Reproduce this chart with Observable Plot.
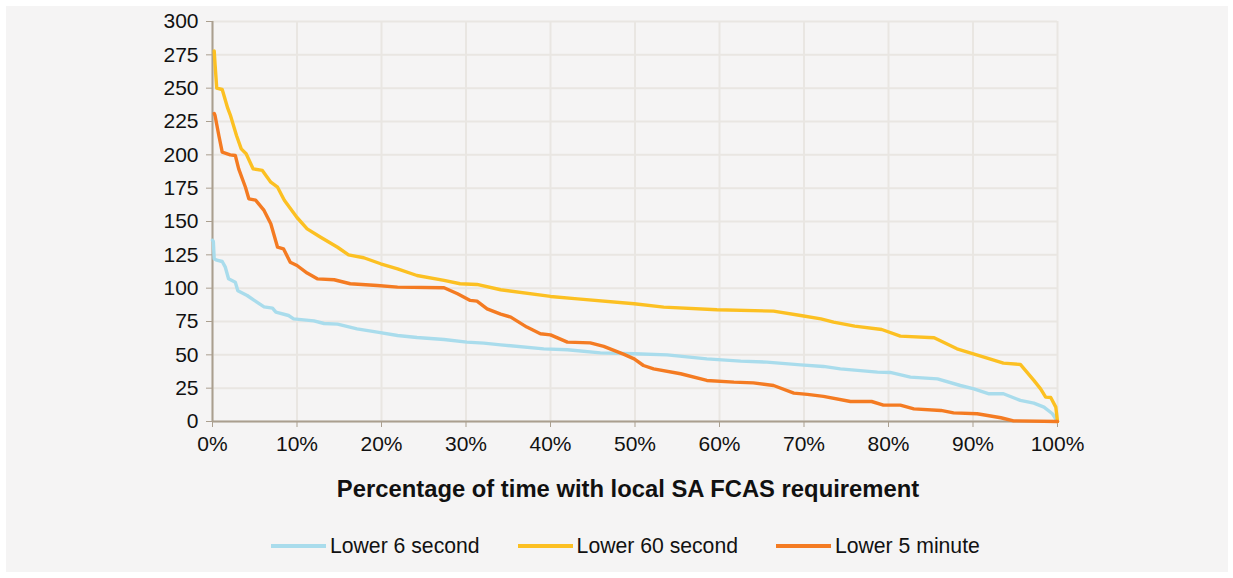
<!DOCTYPE html>
<html>
<head>
<meta charset="utf-8">
<script src="https://cdn.jsdelivr.net/npm/d3@7"></script>
<script src="https://cdn.jsdelivr.net/npm/@observablehq/plot@0.6"></script>
<style>
  html, body { margin: 0; padding: 0; background: #ffffff; }
  #panel { position: absolute; left: 6px; top: 6px; width: 1222px; height: 566px; background: #f5f4f4; overflow: hidden;
           font-family: "Liberation Sans", Arial, sans-serif; color: #111; }
  #chart { position: absolute; left: 0; top: 0; }
  #title { position: absolute; left: 622px; top: 470px; transform: translateX(-50%); white-space: nowrap;
           font-weight: bold; font-size: 23.8px; line-height: 26px; }
  #legend { position: absolute; left: 265px; top: 527px; display: flex; align-items: center; white-space: nowrap;
            font-size: 21.2px; line-height: 26px; }
  .item { display: flex; align-items: center; margin-right: 38px; }
  .sw { width: 55px; height: 3.5px; margin-right: 4px; }
</style>
</head>
<body>
<div id="panel">
  <div id="chart"></div>
  <div id="title"></div>
  <div id="legend"></div>
</div>
<script>
// ---- Data ----
const seriesNames = ["Lower 6 second", "Lower 60 second", "Lower 5 minute"];
const seriesColors = ["#a9dcec", "#fcc022", "#f47b22"];

const pctL6 = [0, 0.1, 0.2, 0.5, 1.15, 1.5, 1.9, 2.7, 3.0, 4.1, 4.9, 6.1, 7.1, 7.5, 9.0, 9.6, 12.0, 13.2, 14.8, 17.1, 19.5, 21.9, 24.2, 27.4, 30.1, 32.1, 34.1, 39.2, 42.0, 45.9, 49.9, 53.8, 58.5, 62.5, 65.6, 69.6, 72.3, 74.3, 78.7, 80.2, 82.6, 85.8, 88.5, 90.1, 91.9, 93.6, 95.6, 97.2, 98.4, 99.4, 100];
const valL6 = [136, 135, 122, 121, 120, 116, 107, 104.5, 98, 94.5, 91, 86, 85, 82, 79.5, 77, 75.5, 73.5, 73, 69.5, 67, 64.5, 63, 61.5, 59.5, 58.8, 57.5, 54.5, 53.8, 51.5, 50.8, 50, 47, 45.3, 44.5, 42.5, 41.3, 39.5, 37, 36.8, 33.3, 32, 27, 24.5, 20.8, 20.8, 15.8, 13.8, 10.8, 5.8, 0];

const pctL60 = [0.2, 0.3, 0.5, 1.15, 1.8, 2.1, 2.84, 3.4, 3.98, 4.8, 5.9, 6.9, 7.7, 8.5, 10.0, 11.2, 12.8, 14.8, 16.1, 17.9, 19.9, 21.9, 24.2, 27.4, 29.3, 31.3, 34.1, 40.0, 43.2, 49.9, 53.4, 59.7, 66.4, 69.6, 72.0, 73.5, 76.0, 79.2, 81.4, 85.4, 88.1, 91.3, 93.6, 95.6, 97.2, 98.0, 98.6, 99.2, 99.8, 100];
const valL60 = [278, 268, 250, 249, 235, 230, 214.5, 204.5, 200.8, 189.5, 188.3, 179.5, 175.7, 166, 153, 144.5, 138.2, 130.7, 125, 122.8, 118.3, 114.5, 109.5, 105.8, 103.3, 102.8, 98.8, 93.8, 92, 88.3, 85.8, 83.8, 82.8, 79.5, 77, 74.5, 71.5, 69, 64, 62.8, 54.5, 48.3, 43.8, 42.8, 30.8, 24.5, 18.3, 18, 10.8, 0];

const pctL5 = [0.2, 0.3, 0.75, 1.15, 2.1, 2.7, 3.1, 3.9, 4.3, 5.1, 6.1, 6.9, 7.7, 8.4, 9.2, 10.0, 11.2, 12.4, 14.4, 16.3, 19.5, 21.9, 27.4, 29.0, 30.5, 31.3, 32.5, 34.1, 35.3, 37.2, 38.8, 40.0, 42.0, 44.7, 46.3, 48.7, 49.9, 51.0, 52.2, 55.4, 58.5, 61.7, 64.0, 66.4, 68.8, 70.4, 72.3, 75.5, 78.0, 79.4, 81.4, 83.0, 86.2, 87.7, 90.5, 93.3, 94.8, 100];
const valL5 = [231, 229.5, 214.5, 202, 200, 199.5, 189.5, 175.7, 167, 166, 158.3, 148.3, 130.7, 129.5, 119.5, 117, 111.3, 107, 106.3, 103.3, 102, 100.8, 100.3, 95.8, 90.8, 90.3, 84.5, 80.5, 78.3, 70.8, 65.8, 65, 59.5, 59, 56.3, 50.3, 47, 42, 39.5, 35.8, 30.8, 29.5, 29, 27, 21.3, 20.3, 18.8, 15, 15, 12.3, 12.3, 9.5, 8.3, 6.5, 5.8, 2.8, 0.5, 0];

const xTicks = [0, 10, 20, 30, 40, 50, 60, 70, 80, 90, 100];
const yTicks = [0, 25, 50, 75, 100, 125, 150, 175, 200, 225, 250, 275, 300];
const xTitle = "Percentage of time with local SA FCAS requirement";

// ---- Build rows ----
const toRows = (name, xs, ys) => xs.map((x, i) => ({series: name, pct: x, value: ys[i]}));
const rows = [
  ...toRows(seriesNames[0], pctL6, valL6),
  ...toRows(seriesNames[1], pctL60, valL60),
  ...toRows(seriesNames[2], pctL5, valL5)
];

const axisColor = "#aa9f8f";
const gridColor = "#e9e6e2";

const chart = Plot.plot({
  width: 1222,
  height: 450,
  marginLeft: 206,
  marginRight: 171,
  marginTop: 15,
  marginBottom: 35,
  style: {fontFamily: "Liberation Sans, Arial, sans-serif", fontSize: "21px", background: "transparent", color: "#111"},
  x: {domain: [0, 100]},
  y: {domain: [0, 300]},
  color: {domain: seriesNames, range: seriesColors},
  marks: [
    Plot.gridX(xTicks, {stroke: gridColor, strokeOpacity: 1, strokeWidth: 2}),
    Plot.gridY(yTicks, {stroke: gridColor, strokeOpacity: 1, strokeWidth: 2}),
    Plot.ruleX([0], {stroke: axisColor, strokeWidth: 2}),
    Plot.ruleY([0], {stroke: axisColor, strokeWidth: 2}),
    Plot.axisX(xTicks, {tickSize: 6, tickPadding: 9, stroke: axisColor, fill: "#111", tickFormat: d => d + "%", label: null}),
    Plot.axisY(yTicks, {tickSize: 6, tickPadding: 8, stroke: axisColor, fill: "#111", label: null}),
    Plot.line(rows, {x: "pct", y: "value", z: "series", stroke: "series", strokeWidth: 3.4, strokeLinejoin: "round"})
  ]
});
document.getElementById("chart").appendChild(chart);

document.getElementById("title").textContent = xTitle;
const legend = document.getElementById("legend");
seriesNames.forEach((name, i) => {
  const item = document.createElement("div");
  item.className = "item";
  const sw = document.createElement("div");
  sw.className = "sw";
  sw.style.background = seriesColors[i];
  const label = document.createElement("span");
  label.textContent = name;
  item.appendChild(sw);
  item.appendChild(label);
  legend.appendChild(item);
});
</script>
</body>
</html>
